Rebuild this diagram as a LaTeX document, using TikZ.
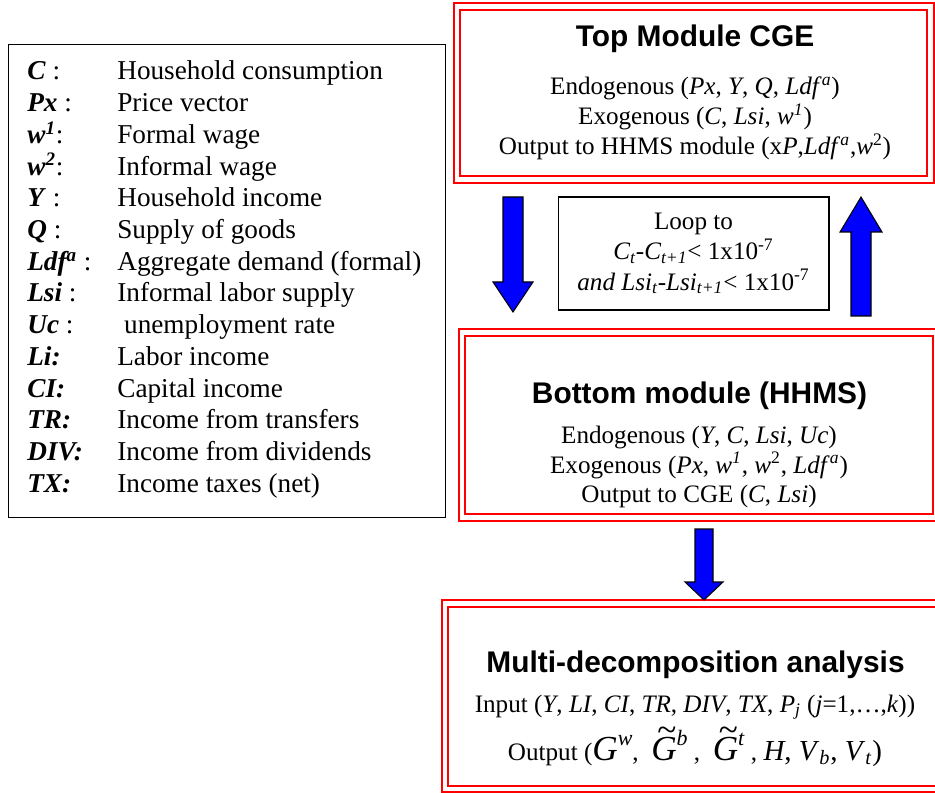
\documentclass[tikz,border=0pt]{standalone}
\usepackage{fontspec}
\setmainfont{Liberation Serif}
\newfontfamily\headfont{Liberation Sans}

\newcommand{\bigsym}[2]{{\fontsize{20}{20}\selectfont\textit{#1}}\raisebox{8pt}{\fontsize{12.5}{13}\selectfont\textit{#2}}}
\newcommand{\tildesym}[2]{{\fontsize{20}{20}\selectfont\makebox[0pt][l]{\hspace{3.5pt}\raisebox{10.5pt}{\textasciitilde}}\textit{#1}}\raisebox{8pt}{\fontsize{12.5}{13}\selectfont\textit{#2}}}

\tikzset{
  module/.style = {draw=red, double=white, line width=1.2pt, double distance=2.4pt, inner sep=0pt},
  loopbox/.style = {draw=black, line width=0.6pt, inner sep=0pt, align=center,
                    font=\fontsize{14.3}{17.3}\selectfont},
  keybox/.style = {draw=black, line width=0.8pt, inner sep=0pt},
  blockarrow/.style = {draw=black, fill=blue, line width=0.6pt, line join=miter},
  head/.style = {font=\headfont\bfseries\fontsize{17}{20}\selectfont, anchor=base, inner sep=0pt},
  body/.style = {font=\fontsize{14.3}{17}\selectfont, anchor=base, inner sep=0pt},
  keyitem/.style = {font=\fontsize{15.5}{18}\selectfont, anchor=base west, inner sep=0pt}
}

\begin{document}
\begin{tikzpicture}[x=0.02cm, y=-0.02cm]
  \useasboundingbox (0,0) rectangle (935,793);

  % legend
  \node[keybox, minimum width=8.74cm, minimum height=9.46cm] (key) at (227,281) {};
  \foreach \lab/\desc [count=\i from 0] in {
      {\textbf{\textit{C}} :}/{Household consumption},
      {\textbf{\textit{Px}} :}/{Price vector},
      {\textbf{\textit{w\textsuperscript{1}}}:}/{Formal wage},
      {\textbf{\textit{w\textsuperscript{2}}}:}/{Informal wage},
      {\textbf{\textit{Y}} :}/{Household income},
      {\textbf{\textit{Q}} :}/{Supply of goods},
      {\textbf{\textit{Ldf\textsuperscript{a}}} :}/{Aggregate demand (formal)},
      {\textbf{\textit{Lsi}} :}/{Informal labor supply},
      {\textbf{\textit{Uc}} :}/{\ unemployment rate},
      {\textbf{\textit{Li:}}}/{Labor income},
      {\textbf{\textit{CI:}}}/{Capital income},
      {\textbf{\textit{TR:}}}/{Income from transfers},
      {\textbf{\textit{DIV:}}}/{Income from dividends},
      {\textbf{\textit{TX:}}}/{Income taxes (net)}}
  {
    \node[keyitem] (lab\i) at (27,{80+31.7*\i}) {\lab};
    \node[keyitem] (desc\i) at (117,{80+31.7*\i}) {\desc};
  }

  % top module
  \node[module, minimum width=9.47cm, minimum height=3.46cm] (topmod) at (693.75,93) {};
  \node[head] (toptitle) at (695,47) {Top Module CGE};
  \node[body] (topendo) at (695,95) {Endogenous (\textit{Px}, \textit{Y}, \textit{Q}, \textit{Ldf}\textsuperscript{\textit{a}})};
  \node[body] (topexo) at (695,125) {Exogenous (\textit{C}, \textit{Lsi}, \textit{w}\textsuperscript{\textit{1}})};
  \node[body] (topout) at (695,155) {Output to HHMS module (x\textit{P},\textit{Ldf}\textsuperscript{\textit{a}},\textit{w}\textsuperscript{2})};

  % loop condition
  \node[loopbox, minimum width=5.42cm, minimum height=2.26cm] (loop) at (693.5,253.5)
    {Loop to\\
     \textit{C\textsubscript{t}-C\textsubscript{t+1}}< 1x10\textsuperscript{-7}\\
     \textit{and Lsi\textsubscript{t}-Lsi\textsubscript{t+1}}< 1x10\textsuperscript{-7}};

  % bottom module
  \node[module, minimum width=9.48cm, minimum height=3.7cm] (botmod) at (699,425) {};
  \node[head] (bottitle) at (699.5,403) {Bottom module (HHMS)};
  \node[body] (botendo) at (699,443) {Endogenous (\textit{Y}, \textit{C}, \textit{Lsi}, \textit{Uc})};
  \node[body] (botexo) at (699,473) {Exogenous (\textit{Px}, \textit{w}\textsuperscript{\textit{1}}, \textit{w}\textsuperscript{2}, \textit{Ldf}\textsuperscript{\textit{a}})};
  \node[body] (botout) at (699,502) {Output to CGE (\textit{C}, \textit{Lsi})};

  % decomposition
  \node[module, minimum width=10.1cm, minimum height=3.71cm] (multi) at (697.5,696.25) {};
  \node[head] (multititle) at (695.5,672) {Multi-decomposition analysis};
  \node[body] (multiin) at (695,712) {Input (\textit{Y}, \textit{LI}, \textit{CI}, \textit{TR}, \textit{DIV}, \textit{TX}, \textit{P}\textsubscript{\textit{j}} (\textit{j}=1,\ldots,\textit{k}))};
  \node[body] (multiout) at (695,760) {Output (\bigsym{G}{w},\ \ \tildesym{G}{b}\ ,\ \ \tildesym{G}{t}\ , {\fontsize{16.5}{17}\selectfont\textit{H}, \textit{V}\textsubscript{\textit{b}}, \textit{V}\textsubscript{\textit{t}})}};

  % block arrows
  \coordinate (down1) at (503,197);
  \coordinate (up1) at (851,316);
  \coordinate (down2) at (695,529);
  \draw[blockarrow] (down1) -- ++(20,0) -- ++(0,85) -- ++(10,0) -- ++(-20,30) -- ++(-20,-30) -- ++(10,0) -- cycle;
  \draw[blockarrow] (up1) -- ++(20,0) -- ++(0,-84) -- ++(11,0) -- ++(-21,-35) -- ++(-21,35) -- ++(11,0) -- cycle;
  \draw[blockarrow] (down2) -- ++(18,0) -- ++(0,53) -- ++(10,0) -- ++(-19,18) -- ++(-19,-18) -- ++(10,0) -- cycle;
\end{tikzpicture}
\end{document}
